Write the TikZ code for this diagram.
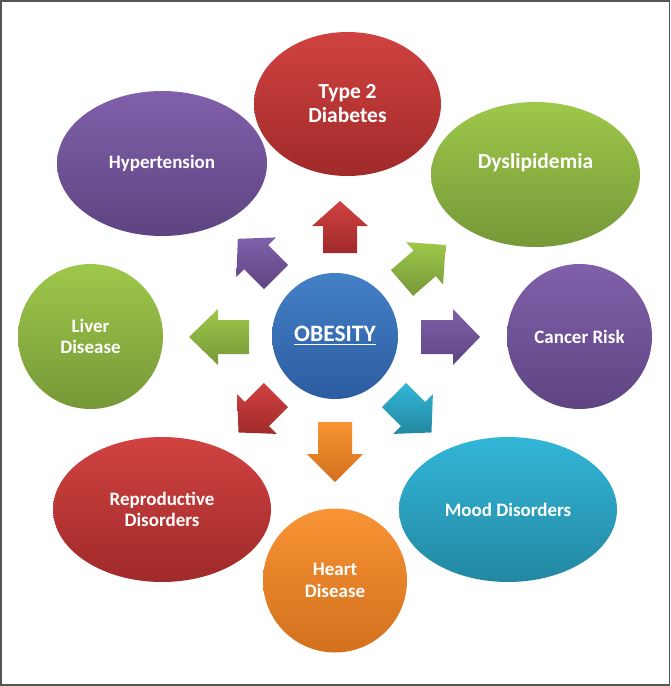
\documentclass[tikz,border=0pt]{standalone}
\usepackage{fontspec}
\setmainfont{Carlito}
\usetikzlibrary{shapes.geometric,calc}
\definecolor{redT}{RGB}{208,66,64}
\definecolor{redB}{RGB}{160,42,42}
\definecolor{purT}{RGB}{128,96,170}
\definecolor{purB}{RGB}{94,68,130}
\definecolor{grnT}{RGB}{158,200,74}
\definecolor{grnB}{RGB}{118,152,56}
\definecolor{tealT}{RGB}{50,182,216}
\definecolor{tealB}{RGB}{35,136,162}
\definecolor{orgT}{RGB}{248,148,52}
\definecolor{orgB}{RGB}{210,112,30}
\definecolor{bluT}{RGB}{68,128,198}
\definecolor{bluB}{RGB}{44,92,160}
\definecolor{frame}{RGB}{85,85,85}
\tikzset{
  bubble/.style={ellipse, inner sep=0pt, outer sep=0pt, text=white,
    font=\bfseries\fontsize{19}{21.5}\selectfont, align=center},
  bigtext/.style={font=\bfseries\fontsize{21.5}{24}\selectfont},
  shadeit/.style 2 args={top color=#1, bottom color=#2},
}
% #1 start (x,y), #2 angle, #3 shaft length, #4 head length, #5 top colour, #6 bottom colour
\newcommand{\blockarr}[6]{%
  \path[shadeit={#5}{#6}]
    ($(#1)+(#2+90:17)$) --
    ($(#1)+(#2+90:17)+(#2:#3)$) --
    ($(#1)+(#2+90:28)+(#2:#3)$) --
    ($(#1)+(#2:#3+#4)$) --
    ($(#1)+(#2-90:28)+(#2:#3)$) --
    ($(#1)+(#2-90:17)+(#2:#3)$) --
    ($(#1)+(#2-90:17)$) -- cycle;}
\begin{document}
\begin{tikzpicture}[x=1pt,y=-1pt]
\useasboundingbox (0,0) rectangle (671,686);
\draw[frame, line width=1.5pt] (0.75,0.75) rectangle (669.3,685);

\node[bubble, bigtext, minimum width=187pt, minimum height=144pt, shadeit={redT}{redB}] (diab) at (347.5,104) {Type 2\\Diabetes};
\node[bubble, minimum width=210pt, minimum height=145pt, shadeit={purT}{purB}] (hyper) at (162,163.5) {Hypertension};
\node[bubble, minimum width=209pt, minimum height=145pt, shadeit={grnT}{grnB},
  label={[bigtext, text=white, yshift=11.5pt]center:Dyslipidemia}] (dysl) at (535.5,174.5) {};
\node[bubble, minimum width=145pt, minimum height=145pt, shadeit={grnT}{grnB}] (liver) at (90.5,336.5) {Liver\\Disease};
\node[bubble, minimum width=145pt, minimum height=145pt, shadeit={purT}{purB}] (cancer) at (579.5,336.5) {Cancer Risk};
\node[bubble, minimum width=218pt, minimum height=145pt, shadeit={redT}{redB}] (repro) at (162,509.5) {Reproductive\\Disorders};
\node[bubble, minimum width=218pt, minimum height=145pt, shadeit={tealT}{tealB}] (mood) at (508,509.5) {Mood Disorders};
\node[bubble, minimum width=144pt, minimum height=144pt, shadeit={orgT}{orgB}] (heart) at (335,580.5) {Heart\\Disease};
\node[bubble, minimum width=126pt, minimum height=126pt, shadeit={bluT}{bluB},
  font=\bfseries\fontsize{23.5}{26}\selectfont] (obesity) at (335,336)
  {\vtop{\hbox{OBESITY}\kern1.8pt\hrule height 1.5pt}};

% block arrows radiating from the centre
\blockarr{340,253}{-90}{27}{25}{redT}{redB}
\blockarr{421,337}{0}{32}{27}{purT}{purB}
\blockarr{249,337}{180}{31}{29}{grnT}{grnB}
\blockarr{335,422}{90}{32}{28}{orgT}{orgB}
\blockarr{276,277}{-135}{28}{26}{purT}{purB}
\blockarr{402,283}{-41}{30}{28}{grnT}{grnB}
\blockarr{394,395}{45}{27}{26}{tealT}{tealB}
\blockarr{276,395}{135}{27}{26}{redT}{redB}
\end{tikzpicture}
\end{document}
